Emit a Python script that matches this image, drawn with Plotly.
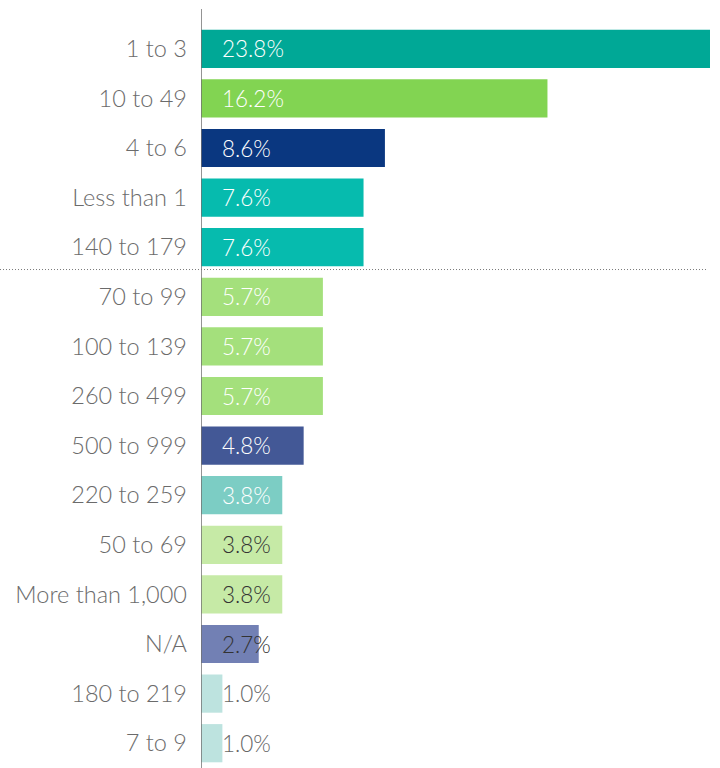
import plotly.graph_objects as go

categories = ["1 to 3", "10 to 49", "4 to 6", "Less than 1", "140 to 179",
              "70 to 99", "100 to 139", "260 to 499", "500 to 999", "220 to 259",
              "50 to 69", "More than 1,000", "N/A", "180 to 219", "7 to 9"]
values = [23.8, 16.2, 8.6, 7.6, 7.6, 5.7, 5.7, 5.7, 4.8, 3.8, 3.8, 3.8, 2.7, 1.0, 1.0]
bar_colors = ["#00A896", "#82D452", "#0A3780", "#06BBAE", "#06BBAE",
              "#A4E07C", "#A4E07C", "#A4E07C", "#435896", "#7CCDC4",
              "#C6EAA6", "#C6EAA6", "#7280B4", "#BDE3DF", "#BDE3DF"]
label_colors = ["#ffffff"] * 10 + ["#333333", "#333333", "#333333", "#666666", "#666666"]

FONT = "Lato"

fig = go.Figure()
fig.add_trace(go.Bar(
    x=values, y=categories, orientation="h",
    marker=dict(color=bar_colors, line=dict(width=0)),
    width=0.77, hoverinfo="skip",
))

for cat, val, col in zip(categories, values, label_colors):
    fig.add_annotation(x=0, y=cat, xref="x", yref="y", text=f"{val:.1f}%",
                       showarrow=False, xanchor="left", xshift=19,
                       font=dict(family=FONT, size=22.5, color=col, weight=300))

# vertical axis line
fig.add_shape(type="line", xref="x", yref="paper", x0=0, x1=0, y0=-0.01, y1=1.02,
              line=dict(color="#707070", width=1.5))
# dotted separator
fig.add_shape(type="line", xref="paper", yref="y", x0=-201/509, x1=0.996, y0=4.45, y1=4.45,
              line=dict(color="#7a7a7a", width=1, dash="1px,2px"))

fig.update_layout(
    width=720, height=768,
    margin=dict(l=201, r=10, t=24, b=0),
    plot_bgcolor="white", paper_bgcolor="white",
    showlegend=False, bargap=0.23,
    xaxis=dict(range=[0, 23.8], visible=False, fixedrange=True),
    yaxis=dict(autorange="reversed", showgrid=False, zeroline=False, showline=False,
               ticks="", ticklabelstandoff=13,
               tickfont=dict(family=FONT, size=23.5, color="#6b6b6b", weight=300)),
)
fig.write_html("out.html")
